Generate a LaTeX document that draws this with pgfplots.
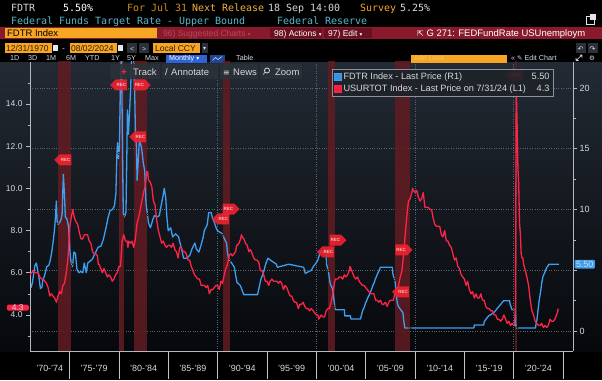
\documentclass[border=0pt]{standalone}
\usepackage{fontspec}
\setmainfont{Liberation Sans}
\setmonofont{DejaVu Sans Mono}
\newfontfamily\dejavu{DejaVu Sans}
\usepackage{pgfplots}
\pgfplotsset{compat=1.18}
\usetikzlibrary{shapes.symbols}

\definecolor{bbblue}{HTML}{3E9EF2}
\definecolor{bbred}{HTML}{FF2447}
\definecolor{bborange}{HTML}{F6A623}
\definecolor{bbcrimson}{HTML}{8A1A2B}
\definecolor{bbcrimdark}{HTML}{6A1020}
\definecolor{bbteal}{HTML}{5CB6CC}
\definecolor{bbgrid}{HTML}{5A6472}
\definecolor{bbaxis}{HTML}{B4B8C0}
\definecolor{bbtext}{HTML}{D6D9DE}
\definecolor{bbrec}{HTML}{621C22}
\definecolor{bbrecmark}{HTML}{EC2230}
\definecolor{bbtop}{HTML}{232A34}
\definecolor{bbbot}{HTML}{06080B}
\definecolor{bbtool}{HTML}{2B3139}
\definecolor{bblegend}{HTML}{1E2229}
\definecolor{bbdimred}{HTML}{B8485A}
\definecolor{bbmonthly}{HTML}{2D62D8}
\definecolor{bbyel}{HTML}{F0B040}
\definecolor{bbdot}{HTML}{E0A428}

\newcommand{\ui}[1]{\fontsize{#1}{#1}\selectfont}

\begin{document}
\begin{tikzpicture}[x=1bp,y=1bp]
\path[use as bounding box] (0,0) rectangle (602,380);
\fill[black] (0,0) rectangle (602,380);
\shade[top color=bbtop, bottom color=bbbot] (0,29) rectangle (602,318);

% ---------- header row 1 ----------
\begin{scope}[every node/.style={anchor=base west, inner sep=0pt, font=\ttfamily\ui{10}}]
\node[text=bbtext] at (11,368.5) {FDTR};
\node[text=white] at (63,368.5) {5.50\%};
\node[text=bborange!85!black] at (127,368.5) {For Jul 31};
\node[text=bbyel] at (192,368.5) {Next Release};
\node[text=bbtext] at (268,368.5) {18 Sep 14:00};
\node[text=bborange] at (360,368.5) {Survey};
\node[text=bbtext] at (400,368.5) {5.25\%};
% row 2
\node[text=bbteal] at (11,356) {Federal Funds Target Rate - Upper Bound};
\node[text=bbteal] at (277,356) {Federal Reserve};
\end{scope}
\draw[bbtext!70, line width=0.6] (586,356) rectangle (594,364);
\fill[bbtext!70] (590,360) rectangle (596,366);

% ---------- row 3 (crimson bar) ----------
\fill[bbcrimson] (0,341) rectangle (602,353);
\fill[bborange] (5,342) rectangle (157,352);
\fill[bbcrimdark] (270,342) rectangle (322,352);
\fill[bbcrimdark] (324,342) rectangle (372,352);
\begin{scope}[every node/.style={anchor=base west, inner sep=0pt, font=\ui{9.5}}]
\node[text=black] at (7,344) {FDTR Index};
\node[text=bbdimred, font=\ui{8.5}] at (163,344) {96) Suggested Charts {\dejavu\ui{5.5}▾}};
\node[text=white, font=\ui{8.5}] at (274,344) {98) Actions {\dejavu\ui{5.5}▾}};
\node[text=white, font=\ui{8.5}] at (328,344) {97) Edit {\dejavu\ui{5.5}▾}};
\node[text=white] at (417,344) {{\dejavu\ui{8}⇱}\ G 271: FEDFundRate USUnemploym};
\end{scope}

% ---------- row 4 (dates) ----------
\fill[bborange] (5,327) rectangle (52,337);
\fill[bbtext!60] (53,329) rectangle (58,335);
\fill[bborange] (70,327) rectangle (117,337);
\fill[bbtext!60] (118,329) rectangle (123,335);
\fill[bbtool] (127,327) rectangle (137,337);
\fill[bbtool] (139,327) rectangle (149,337);
\fill[bborange] (153,327) rectangle (200,337);
\fill[bbtool] (202,327) rectangle (208,337);
\fill[bbtool] (576,327) rectangle (586,337);
\fill[bbtool] (588,327) rectangle (598,337);
\begin{scope}[every node/.style={anchor=base west, inner sep=0pt, font=\ui{8.5}}]
\node[text=black!80!orange] at (6,329) {12/31/1970};
\node[text=bbtext] at (62,329) {-};
\node[text=black!80!orange] at (71,329) {08/02/2024};
\node[text=bbtext, font=\ui{7}] at (130,329) {<};
\node[text=bbtext, font=\ui{7}] at (142,329) {>};
\node[text=black!80!orange] at (155,329) {Local CCY};
\node[text=bbtext, font=\dejavu\ui{6}] at (203,329.5) {▾};
\node[text=bbtext, font=\dejavu\ui{7}] at (577.5,329) {↶};
\node[text=bbtext!50, font=\dejavu\ui{7}] at (589.5,329) {↷};
\end{scope}

% ---------- row 5 ----------
\fill[bbmonthly] (166,317.5) rectangle (207,325.5);
\fill[bbmonthly!70!black] (210,317.5) rectangle (225,325.5);
\draw[bbtext, line width=0.6] (212.5,319.5) -- (215.5,322.5) -- (218,320.5) -- (222,323.5);
\fill[bborange] (411,317.5) rectangle (507,325.5);
\begin{scope}[every node/.style={anchor=base west, inner sep=0pt, font=\ui{7.2}, text=bbtext}]
\node at (10,319.5) {1D};
\node at (28,319.5) {3D};
\node at (46,319.5) {1M};
\node at (66,319.5) {6M};
\node at (85,319.5) {YTD};
\node at (111,319.5) {1Y};
\node at (127,319.5) {5Y};
\node at (145,319.5) {Max};
\node[text=white] at (169,319.5) {Monthly {\dejavu\ui{6}▾}};
\node at (236,319.5) {Table};
\node[text=bborange!70!white] at (414,319.5) {Add Data};
\node at (511,319.5) {« {\dejavu\ui{6.5}✎} Edit Chart};
\node[font=\dejavu\ui{6.5}] at (589,319.5) {⚙};
\end{scope}
\draw[bbtext, line width=0.6] (576,319.5) -- (582,325) (576,319.5) -- (578.5,319.5) (576,319.5) -- (576,322) (582,325) -- (579.5,325) (582,325) -- (582,322.5);

% ================= AXIS 1: right axis, FDTR =================
\begin{axis}[
  at={(30bp,29bp)}, anchor=south west, scale only axis,
  width=543bp, height=289bp,
  xmin=1971, xmax=2026, ymin=-1.64, ymax=22.14,
  axis y line*=right, axis x line*=bottom,
  axis line style={draw=bbaxis, line width=0.7bp},
  tick align=outside,
  every tick/.style={draw=bbaxis, line width=0.6bp},
  major tick length=4bp, minor tick length=2.5bp,
  ytick={0,5,10,15,20}, yticklabels={0,{},10,15,20},
  minor ytick={2.5,7.5,12.5,17.5},
  yticklabel style={font=\ui{9}, text=bbtext, xshift=-1bp},
  /pgf/number format/assume math mode=true,
  xtick={1980,1990,2000,2010,2020}, xticklabels={},
  xtick style={draw=none},
  grid=major, major grid style={draw=bbgrid, dotted, line width=0.6bp},
  extra y ticks={5.5}, extra y tick labels={5.50},
  extra y tick style={grid=none, major tick length=0bp,
     tick label style={fill=bbblue, text=white, inner sep=1.3bp, rounded corners=1bp, font=\ui{8.5}, xshift=2.5bp}},
  clip=true,
]
% recession bands
\addplot[fill=bbrec, draw=none, opacity=0.85] coordinates {(1973.85,-5) (1975.2,-5) (1975.2,30) (1973.85,30)} -- cycle;
\addplot[fill=bbrec, draw=none, opacity=0.85] coordinates {(1980.0,-5) (1980.55,-5) (1980.55,30) (1980.0,30)} -- cycle;
\addplot[fill=bbrec, draw=none, opacity=0.85] coordinates {(1981.55,-5) (1982.9,-5) (1982.9,30) (1981.55,30)} -- cycle;
\addplot[fill=bbrec, draw=none, opacity=0.85] coordinates {(1990.55,-5) (1991.22,-5) (1991.22,30) (1990.55,30)} -- cycle;
\addplot[fill=bbrec, draw=none, opacity=0.85] coordinates {(2001.22,-5) (2001.88,-5) (2001.88,30) (2001.22,30)} -- cycle;
\addplot[fill=bbrec, draw=none, opacity=0.85] coordinates {(2007.95,-5) (2009.48,-5) (2009.48,30) (2007.95,30)} -- cycle;
\addplot[fill=bbrec, draw=none, opacity=0.85] coordinates {(2020.1,-5) (2020.3,-5) (2020.3,30) (2020.1,30)} -- cycle;
% FDTR
\addplot[bbblue, line width=1.3bp, line join=round] coordinates {
(1971.0,4.0)(1971.12,3.6)(1971.25,4.0)(1971.35,4.6)(1971.5,5.4)(1971.65,5.6)(1971.8,4.9)(1971.95,4.2)(1972.05,3.5)(1972.2,3.6)(1972.3,4.2)(1972.45,4.5)(1972.55,4.8)(1972.7,5.3)(1972.9,5.4)(1973.05,5.8)(1973.2,6.5)(1973.35,7.4)(1973.5,8.5)(1973.58,9.4)(1973.67,10.7)(1973.75,9.0)(1973.85,8.8)(1974.0,8.9)(1974.15,9.2)(1974.25,9.6)(1974.38,12.9)(1974.48,11.4)(1974.58,9.4)(1974.75,9.2)(1974.9,8.6)(1975.05,6.5)(1975.18,5.5)(1975.3,5.3)(1975.45,6.5)(1975.6,6.4)(1975.75,5.1)(1975.95,4.8)(1976.15,4.9)(1976.35,4.8)(1976.5,5.6)(1976.7,4.8)(1976.85,5.6)(1977.0,5.7)(1977.3,5.9)(1977.6,6.4)(1977.9,6.9)(1978.2,7.0)(1978.45,7.6)(1978.7,8.5)(1978.9,9.3)(1979.1,9.9)(1979.35,10.0)(1979.55,10.3)(1979.7,11.3)(1979.8,14.5)(1979.87,15.5)(1979.95,14.2)(1980.05,15.0)(1980.15,19.8)(1980.25,22.6)(1980.32,19.0)(1980.38,14.0)(1980.45,9.7)(1980.6,9.4)(1980.72,9.8)(1980.8,14.0)(1980.87,18.2)(1980.97,16.2)(1981.08,17.9)(1981.2,20.1)(1981.3,22.6)(1981.5,22.6)(1981.6,19.8)(1981.68,16.3)(1981.78,15.2)(1981.85,12.4)(1981.95,13.8)(1982.08,15.7)(1982.3,15.1)(1982.48,13.8)(1982.62,13.2)(1982.75,10.5)(1982.88,9.7)(1983.0,8.9)(1983.2,8.5)(1983.45,9.2)(1983.6,9.5)(1983.9,9.4)(1984.1,9.5)(1984.3,10.4)(1984.45,11.0)(1984.6,11.75)(1984.75,11.0)(1984.85,9.5)(1985.0,8.25)(1985.25,8.5)(1985.45,7.75)(1985.75,8.0)(1986.05,7.75)(1986.2,7.25)(1986.35,6.75)(1986.55,6.0)(1986.9,6.0)(1987.2,6.25)(1987.4,6.75)(1987.7,7.25)(1987.85,6.75)(1988.1,6.5)(1988.3,7.0)(1988.55,7.75)(1988.65,8.25)(1988.95,8.75)(1989.1,9.75)(1989.35,9.75)(1989.5,9.25)(1989.65,9.0)(1989.85,8.5)(1990.0,8.25)(1990.5,8.0)(1990.6,7.75)(1990.9,7.25)(1991.0,6.5)(1991.1,6.0)(1991.3,5.75)(1991.7,5.25)(1991.85,4.5)(1991.97,4.0)(1992.3,3.75)(1992.65,3.0)(1994.05,3.0)(1994.12,3.25)(1994.25,3.75)(1994.38,4.25)(1994.62,4.75)(1994.87,5.5)(1995.1,6.0)(1995.5,5.75)(1995.96,5.5)(1996.05,5.25)(1997.2,5.5)(1998.72,5.25)(1998.8,5.0)(1998.88,4.75)(1999.5,5.0)(1999.65,5.25)(1999.88,5.5)(2000.1,5.75)(2000.22,6.0)(2000.38,6.5)(2000.99,6.5)(2001.04,5.5)(2001.2,5.0)(2001.3,4.5)(2001.38,4.0)(2001.48,3.75)(2001.63,3.5)(2001.72,3.0)(2001.8,2.5)(2001.88,2.0)(2001.96,1.75)(2002.85,1.75)(2002.88,1.25)(2003.46,1.25)(2003.5,1.0)(2004.48,1.0)(2004.55,1.25)(2004.63,1.5)(2004.72,1.75)(2004.88,2.0)(2004.96,2.25)(2005.1,2.5)(2005.22,2.75)(2005.38,3.0)(2005.5,3.25)(2005.63,3.5)(2005.72,3.75)(2005.88,4.0)(2005.96,4.25)(2006.1,4.5)(2006.22,4.75)(2006.38,5.0)(2006.48,5.25)(2007.7,5.25)(2007.75,4.75)(2007.82,4.5)(2007.95,4.25)(2008.05,3.5)(2008.09,3.0)(2008.22,2.25)(2008.33,2.0)(2008.78,1.5)(2008.83,1.0)(2008.96,0.25)(2015.96,0.25)(2016.0,0.5)(2016.96,0.5)(2017.0,0.75)(2017.2,1.0)(2017.46,1.25)(2017.96,1.5)(2018.22,1.75)(2018.46,2.0)(2018.73,2.25)(2018.97,2.5)(2019.58,2.5)(2019.62,2.25)(2019.72,2.0)(2019.83,1.75)(2020.17,1.75)(2020.19,1.25)(2020.22,0.25)(2022.2,0.25)(2022.24,0.5)(2022.36,1.0)(2022.46,1.75)(2022.57,2.5)(2022.72,3.25)(2022.84,4.0)(2022.96,4.5)(2023.1,4.75)(2023.22,5.0)(2023.36,5.25)(2023.57,5.5)(2024.58,5.5)
};
% recession boundary dots on FDTR
\addplot[only marks, mark=*, mark size=1.3bp, mark options={fill=bbdot, draw=none}] coordinates {
(1973.85,8.8)(1975.2,5.5)(1980.0,14.6)(1980.55,9.4)(1981.55,22.0)(1982.9,9.6)(1990.55,7.9)(1991.22,5.8)(2001.22,5.0)(2001.88,2.0)(2007.95,4.25)(2009.48,0.25)(2020.1,1.75)(2020.3,0.25)
};
\end{axis}

% ================= AXIS 3: x axis decorations =================
\begin{axis}[
  at={(30bp,29bp)}, anchor=south west, scale only axis,
  width=543bp, height=289bp,
  xmin=1971, xmax=2026, ymin=0, ymax=1,
  axis y line=none, axis x line*=bottom,
  axis line style={draw=bbaxis, line width=0.7bp},
  tick align=outside,
  major tick length=0bp, minor tick length=28bp,
  xtick={1973,1977.5,1982.5,1987.5,1992.5,1997.5,2002.5,2007.5,2012.5,2017.5,2022.5},
  xticklabels={'70-'74,'75-'79,'80-'84,'85-'89,'90-'94,'95-'99,'00-'04,'05-'09,'10-'14,'15-'19,'20-'24},
  minor xtick={1975,1980,1985,1990,1995,2000,2005,2010,2015,2020,2025},
  every minor tick/.style={draw=bbaxis!80, line width=0.6bp},
  xticklabel style={font=\ui{9}, text=bbtext, yshift=-11bp},
]
\end{axis}

% ================= AXIS 2: left axis, unemployment =================
\begin{axis}[
  at={(30bp,29bp)}, anchor=south west, scale only axis,
  width=543bp, height=289bp,
  xmin=1971, xmax=2026, ymin=2.29, ymax=15.99,
  axis y line*=left, axis x line=none,
  axis line style={draw=bbaxis, line width=0.7bp},
  tick align=outside,
  every tick/.style={draw=bbaxis, line width=0.6bp},
  major tick length=4bp, minor tick length=2.5bp,
  ytick={4,6,8,10,12,14}, minor ytick={3,5,7,9,11,13,15},
  /pgf/number format/assume math mode=true,
  yticklabel style={font=\ui{8.5}, text=bbtext, inner ysep=0pt, /pgf/number format/.cd, fixed, fixed zerofill, precision=1},
  extra y ticks={4.3},
  extra y tick style={major tick length=0bp,
     tick label style={fill=bbred, text=white, inner xsep=1.3bp, inner ysep=0.5bp, text height=6bp, text depth=0bp, minimum width=22bp, rounded corners=1.5bp, font=\ui{8.5}, xshift=-1bp, yshift=1bp}},
  legend style={at={(0.556,0.976)}, anchor=north west, fill=bblegend, draw=bbgrid!70,
     fill opacity=0.9, text opacity=1, text=bbtext, font=\ui{9.2},
     inner xsep=2bp, inner ysep=1.5bp, row sep=0bp},
  legend cell align=left,
]
\addlegendimage{legend image code/.code={\fill[bbblue] (0bp,-3.5bp) rectangle (7bp,3.5bp);}}
\addlegendentry{\makebox[206bp][l]{FDTR Index - Last Price (R1)\hfill 5.50}}
\addlegendimage{legend image code/.code={\fill[bbred] (0bp,-3.5bp) rectangle (7bp,3.5bp);}}
\addlegendentry{\makebox[206bp][l]{USURTOT Index - Last Price on 7/31/24 (L1)\hfill 4.3}}
% unemployment
\addplot[bbred, line width=1.3bp, line join=round, forget plot] coordinates {
(1971.0,5.9)(1971.17,6.0)(1971.33,6.1)(1971.5,6.0)(1971.67,6.0)(1971.83,6.0)
(1972.0,5.8)(1972.17,5.7)(1972.33,5.7)(1972.5,5.6)(1972.67,5.5)(1972.83,5.3)
(1973.0,4.9)(1973.17,5.0)(1973.33,4.9)(1973.5,4.8)(1973.67,4.6)(1973.83,4.9)
(1974.0,5.1)(1974.17,5.0)(1974.33,5.4)(1974.5,5.5)(1974.67,6.0)(1974.83,6.6)(1974.92,7.2)
(1975.0,8.1)(1975.17,8.6)(1975.33,9.0)(1975.5,8.6)(1975.67,8.4)(1975.83,8.3)
(1976.0,7.9)(1976.17,7.6)(1976.33,7.6)(1976.5,7.8)(1976.67,7.8)(1976.83,7.8)
(1977.0,7.5)(1977.17,7.4)(1977.33,7.0)(1977.5,6.9)(1977.67,6.9)(1977.83,6.8)(1977.92,6.4)
(1978.0,6.4)(1978.17,6.2)(1978.33,6.0)(1978.5,6.2)(1978.67,6.0)(1978.83,5.8)
(1979.0,5.9)(1979.17,5.8)(1979.33,5.6)(1979.5,5.7)(1979.67,5.9)(1979.83,6.0)
(1980.0,6.3)(1980.17,6.3)(1980.25,6.9)(1980.33,7.5)(1980.5,7.8)(1980.67,7.5)(1980.83,7.5)(1980.92,7.2)
(1981.0,7.5)(1981.17,7.4)(1981.33,7.5)(1981.5,7.2)(1981.67,7.6)(1981.83,8.3)(1981.92,8.5)
(1982.0,8.6)(1982.17,9.0)(1982.33,9.4)(1982.5,9.8)(1982.67,10.1)(1982.83,10.8)(1982.92,10.8)
(1983.0,10.4)(1983.17,10.3)(1983.33,10.1)(1983.5,9.4)(1983.67,9.2)(1983.83,8.5)
(1984.0,8.0)(1984.17,7.7)(1984.33,7.4)(1984.5,7.5)(1984.67,7.3)(1984.83,7.2)
(1985.0,7.3)(1985.17,7.3)(1985.33,7.2)(1985.5,7.4)(1985.67,7.1)(1985.83,7.0)
(1986.0,6.7)(1986.17,7.2)(1986.33,7.2)(1986.5,7.0)(1986.67,7.0)(1986.83,6.9)
(1987.0,6.6)(1987.17,6.6)(1987.33,6.3)(1987.5,6.1)(1987.67,5.9)(1987.83,5.8)
(1988.0,5.7)(1988.17,5.7)(1988.33,5.4)(1988.5,5.4)(1988.67,5.4)(1988.83,5.3)
(1989.0,5.4)(1989.17,5.0)(1989.33,5.2)(1989.5,5.2)(1989.67,5.3)(1989.83,5.4)
(1990.0,5.4)(1990.17,5.2)(1990.33,5.6)(1990.5,5.5)(1990.67,5.9)(1990.83,6.2)(1990.92,6.3)
(1991.0,6.4)(1991.17,6.8)(1991.33,6.9)(1991.5,6.8)(1991.67,6.9)(1991.83,7.0)(1991.92,7.3)
(1992.0,7.3)(1992.17,7.4)(1992.33,7.6)(1992.42,7.8)(1992.5,7.7)(1992.67,7.6)(1992.83,7.4)
(1993.0,7.3)(1993.17,7.0)(1993.33,7.1)(1993.5,6.9)(1993.67,6.7)(1993.83,6.6)
(1994.0,6.6)(1994.17,6.5)(1994.33,6.1)(1994.5,6.1)(1994.67,5.9)(1994.83,5.6)
(1995.0,5.6)(1995.17,5.4)(1995.33,5.6)(1995.5,5.7)(1995.67,5.6)(1995.83,5.6)
(1996.0,5.6)(1996.17,5.5)(1996.33,5.6)(1996.5,5.5)(1996.67,5.2)(1996.83,5.4)
(1997.0,5.3)(1997.17,5.1)(1997.33,4.9)(1997.5,4.9)(1997.67,4.7)(1997.83,4.6)
(1998.0,4.6)(1998.17,4.3)(1998.33,4.5)(1998.5,4.5)(1998.67,4.6)(1998.83,4.4)
(1999.0,4.3)(1999.17,4.3)(1999.33,4.2)(1999.5,4.3)(1999.67,4.2)(1999.83,4.1)
(2000.0,4.0)(2000.17,4.0)(2000.25,3.8)(2000.5,4.0)(2000.67,3.9)(2000.83,3.9)
(2001.0,4.2)(2001.17,4.3)(2001.33,4.3)(2001.5,4.6)(2001.67,5.0)(2001.83,5.5)(2001.92,5.7)
(2002.0,5.7)(2002.17,5.7)(2002.33,5.8)(2002.5,5.8)(2002.67,5.7)(2002.83,5.9)
(2003.0,5.8)(2003.17,5.9)(2003.33,6.1)(2003.42,6.3)(2003.5,6.2)(2003.67,6.0)(2003.83,5.8)
(2004.0,5.7)(2004.17,5.8)(2004.33,5.6)(2004.5,5.5)(2004.67,5.4)(2004.83,5.4)
(2005.0,5.3)(2005.17,5.2)(2005.33,5.1)(2005.5,5.0)(2005.67,5.0)(2005.83,5.0)
(2006.0,4.7)(2006.17,4.7)(2006.33,4.6)(2006.5,4.7)(2006.67,4.5)(2006.83,4.5)
(2007.0,4.6)(2007.17,4.4)(2007.33,4.6)(2007.5,4.7)(2007.67,4.7)(2007.83,4.7)(2007.92,5.0)
(2008.0,5.0)(2008.17,5.1)(2008.33,5.4)(2008.5,5.8)(2008.67,6.1)(2008.83,6.8)(2008.92,7.3)
(2009.0,7.8)(2009.17,8.7)(2009.33,9.4)(2009.5,9.5)(2009.67,9.8)(2009.75,10.0)(2009.83,9.9)
(2010.0,9.8)(2010.17,9.9)(2010.33,9.6)(2010.5,9.4)(2010.67,9.5)(2010.83,9.8)
(2011.0,9.1)(2011.17,9.1)(2011.33,9.1)(2011.5,9.0)(2011.67,9.0)(2011.83,8.6)
(2012.0,8.3)(2012.17,8.2)(2012.33,8.2)(2012.5,8.2)(2012.67,7.8)(2012.83,7.7)
(2013.0,8.0)(2013.17,7.5)(2013.33,7.5)(2013.5,7.3)(2013.67,7.2)(2013.83,6.9)
(2014.0,6.6)(2014.17,6.7)(2014.33,6.3)(2014.5,6.2)(2014.67,5.9)(2014.83,5.8)
(2015.0,5.7)(2015.17,5.4)(2015.33,5.6)(2015.5,5.2)(2015.67,5.0)(2015.83,5.1)
(2016.0,4.8)(2016.17,5.0)(2016.33,4.8)(2016.5,4.8)(2016.67,5.0)(2016.83,4.7)
(2017.0,4.7)(2017.17,4.4)(2017.33,4.3)(2017.5,4.3)(2017.67,4.2)(2017.83,4.2)
(2018.0,4.0)(2018.17,4.0)(2018.33,3.8)(2018.5,3.8)(2018.67,3.7)(2018.83,3.8)
(2019.0,4.0)(2019.17,3.8)(2019.33,3.6)(2019.5,3.7)(2019.67,3.5)(2019.83,3.6)
(2020.0,3.5)(2020.08,3.5)(2020.17,4.4)(2020.25,14.8)(2020.33,13.2)(2020.42,11.0)(2020.5,10.2)(2020.58,8.4)(2020.67,7.8)(2020.75,6.9)(2020.83,6.7)(2020.92,6.7)
(2021.0,6.4)(2021.17,6.1)(2021.33,5.8)(2021.5,5.4)(2021.67,4.7)(2021.83,4.2)
(2022.0,4.0)(2022.17,3.7)(2022.33,3.6)(2022.5,3.5)(2022.67,3.5)(2022.83,3.6)
(2023.0,3.4)(2023.17,3.5)(2023.33,3.4)(2023.5,3.5)(2023.67,3.8)(2023.83,3.7)
(2024.0,3.7)(2024.17,3.8)(2024.33,4.0)(2024.42,4.1)(2024.5,4.3)
};
% REC markers pointing east
\addplot[only marks, mark=none, forget plot, point meta=explicit symbolic,
  nodes near coords, nodes near coords align=center,
  nodes near coords style={anchor=center, signal, signal to=east, fill=bbrecmark, text=white,
    font=\ui{4.5}, inner sep=0.8bp, minimum height=11bp, minimum width=17bp, fill opacity=0.92, text opacity=1}]
  coordinates {(1991.09,9.02)[REC] (2001.92,7.55)[REC] (2008.60,7.08)[REC] (1982.09,14.9)[REC]};
% REC markers pointing west
\addplot[only marks, mark=none, forget plot, point meta=explicit symbolic,
  nodes near coords, nodes near coords align=center,
  nodes near coords style={anchor=center, signal, signal to=west, fill=bbrecmark, text=white,
    font=\ui{4.5}, inner sep=0.8bp, minimum height=11bp, minimum width=17bp, fill opacity=0.92, text opacity=1}]
  coordinates {(1974.60,11.35)[REC] (1980.26,14.9)[REC] (1982.19,12.44)[REC] (1990.59,8.55)[REC] (2001.21,6.99)[REC] (2008.80,5.09)[REC] (2020.35,15.37)[REC]};
\end{axis}

% ---------- chart toolbar ----------
\fill[bbtool, opacity=0.9] (110,301) rectangle (160,316);
\fill[bbtool, opacity=0.9] (162,301) rectangle (218,316);
\fill[bbtool, opacity=0.9] (220,301) rectangle (258,316);
\fill[bbtool, opacity=0.9] (260,301) rectangle (302,316);
\begin{scope}[every node/.style={anchor=base west, inner sep=0pt, font=\ui{9.5}, text=bbtext}]
\node[text=bbred, font=\bfseries\ui{10}] at (121,304.5) {+};
\node at (133,304.5) {Track};
\node[text=bbtext!60] at (165,304.5) {/};
\node at (171,304.5) {Annotate};
\node[text=bbtext!60, font=\dejavu\ui{8}] at (223,304.5) {≡};
\node at (233,304.5) {News};
\node at (275,304.5) {Zoom};
\end{scope}
\draw[bbtext!60, line width=0.7] (267,309.5) circle (2.5) (265.2,307.7) -- (263,305.5);
\end{tikzpicture}
\end{document}
